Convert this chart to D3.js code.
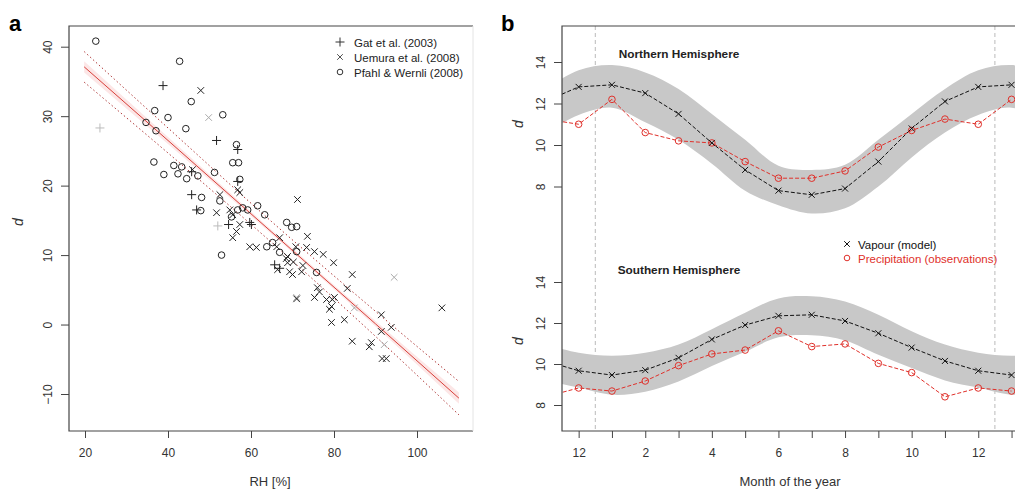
<!DOCTYPE html>
<html>
<head>
<meta charset="utf-8">
<script src="https://cdn.jsdelivr.net/npm/d3@7"></script>
<style>
  body { margin: 0; background: #fff; }
  svg { font-family: "Liberation Sans", Arial, sans-serif; }
  .tick text { fill: #333; }
</style>
</head>
<body>
<svg id="chart" width="1015" height="490"></svg>
<script>
// ---- panel a: d-excess vs relative humidity ----
const gatPoints = [
  [38.8, 34.4], [45.7, 22.0], [45.7, 18.7], [46.9, 16.5], [56.8, 25.2], [56.8, 20.6],
  [51.7, 26.5], [54.6, 14.4], [59.7, 14.7], [65.7, 8.6], [66.9, 8.1], [60.1, 14.4]
];
const gatFaint = [[23.6, 28.3], [52.0, 14.2]];
const uemuraPoints = [
  [47.9, 33.7], [45.9, 22.3], [52.5, 18.7], [56.8, 19.4], [57.3, 19.0], [51.7, 16.1],
  [54.9, 16.5], [55.6, 15.8], [57.3, 14.4], [55.6, 12.5], [56.5, 13.4], [59.7, 11.2],
  [61.3, 11.1], [66.9, 12.5], [66.2, 11.2], [68.8, 9.8], [68.8, 8.9], [66.4, 7.9],
  [69.3, 7.6], [72.2, 7.6], [70.8, 11.2], [71.2, 18.0], [73.6, 12.7], [73.4, 11.1],
  [75.3, 10.5], [77.4, 10.1], [79.9, 8.9], [84.4, 7.2], [83.2, 5.2], [76.0, 5.3],
  [76.5, 4.7], [75.3, 3.9], [78.2, 3.6], [79.6, 3.6], [80.1, 3.9], [79.4, 2.6],
  [78.9, 2.2], [82.5, 0.7], [79.4, 0.3], [91.4, 1.4], [93.8, -0.4], [91.4, -1.0],
  [84.4, -2.4], [89.0, -2.6], [88.5, -3.2], [106.0, 2.4], [91.6, -4.9], [92.6, -4.9],
  [71.0, 3.7], [68.5, 9.5], [70.2, 9.0], [72.5, 8.5], [70.0, 7.2]
];
const uemuraFaint = [[49.8, 29.8], [94.5, 6.8], [84.9, 2.4], [92.1, -2.9], [71.0, 3.9]];
const pfahlPoints = [
  [22.6, 40.8], [42.8, 37.9], [45.6, 32.1], [53.2, 30.2], [36.8, 30.8], [34.7, 29.1],
  [37.1, 27.9], [44.3, 28.2], [40.0, 29.8], [36.6, 23.4], [39.0, 21.6], [41.4, 22.9],
  [43.3, 22.7], [42.4, 21.7], [44.5, 21.0], [47.2, 21.4], [51.2, 21.9], [56.5, 25.9],
  [55.6, 23.3], [57.0, 23.3], [57.3, 20.9], [48.1, 18.3], [52.5, 17.8], [47.9, 16.4],
  [55.3, 15.5], [56.8, 16.5], [58.0, 16.8], [59.2, 16.5], [61.6, 17.1], [63.3, 15.8],
  [52.9, 10.0], [63.8, 11.2], [65.2, 11.8], [68.6, 14.7], [69.8, 14.0], [71.0, 14.1],
  [71.0, 10.5], [66.9, 10.4], [75.8, 7.5]
];
const fitRH = [19.8, 40, 65, 90, 110.1];
const fitD = [37.1, 26.5, 13.3, 0.1, -10.6];
const ciUpper = [37.9, 27.0, 13.6, 0.5, -9.8];
const ciLower = [36.3, 26.0, 13.0, -0.3, -11.4];
const predUpper = [39.3, 28.3, 14.8, 1.9, -8.2];
const predLower = [34.9, 24.7, 11.8, -1.7, -13.0];
const rhTicks = [20, 40, 60, 80, 100];
const dTicksA = [-10, 0, 10, 20, 30, 40];
const legendA = ["Gat et al. (2003)", "Uemura et al. (2008)", "Pfahl & Wernli (2008)"];

// ---- panel b: seasonal cycle (Jan..Dec) ----
const nhVapour = [12.9, 12.5, 11.5, 10.1, 8.8, 7.8, 7.6, 7.9, 9.2, 10.8, 12.1, 12.8];
const nhPrecip = [12.2, 10.6, 10.2, 10.1, 9.2, 8.4, 8.4, 8.75, 9.9, 10.7, 11.25, 11.0];
const nhBandUp = [13.85, 13.5, 12.7, 11.5, 10.25, 9.0, 8.8, 9.05, 10.25, 11.5, 12.7, 13.6];
const nhBandLo = [11.8, 11.1, 10.25, 9.1, 7.8, 7.1, 6.7, 6.95, 8.0, 9.4, 10.6, 11.45];
const shVapour = [9.46, 9.7, 10.3, 11.2, 11.9, 12.35, 12.4, 12.1, 11.5, 10.8, 10.15, 9.67];
const shPrecip = [8.68, 9.17, 9.92, 10.49, 10.68, 11.62, 10.85, 10.98, 10.03, 9.58, 8.4, 8.83];
const shBandUp = [10.4, 10.55, 10.95, 11.7, 12.5, 13.2, 13.3, 13.05, 12.4, 11.6, 10.95, 10.55];
const shBandLo = [8.5, 8.65, 9.15, 9.9, 10.6, 11.3, 11.4, 11.15, 10.45, 9.8, 9.2, 8.85];
const monthTicks = [12, 1, 2, 3, 4, 5, 6, 7, 8, 9, 10, 11, 12, 1];
const dTicksB = [8, 10, 12, 14];
const legendB = ["Vapour (model)", "Precipitation (observations)"];

const svg = d3.select("#chart");
const axisCol = "#444";
const red = "#e0302a";

const plusPath = "M-4.5,0H4.5M0,-4.5V4.5";
const crossPath = "M-3.3,-3.3L3.3,3.3M-3.3,3.3L3.3,-3.3";

function styleAxis(g) {
  g.select(".domain").remove();
  g.selectAll(".tick line").attr("stroke", axisCol);
  g.selectAll(".tick text").attr("font-size", 12);
}
function rotateY(g) {
  g.selectAll(".tick text")
    .attr("transform", "rotate(-90)")
    .attr("x", 0).attr("y", -17).attr("dy", 0)
    .attr("text-anchor", "middle");
}

// ================= panel a =================
const A = {l: 69, r: 473, t: 26, b: 431};
const xA = d3.scaleLinear().domain([20, 100]).range([85, 417]);
const yA = d3.scaleLinear().domain([-10, 40]).range([394, 46.7]);

svg.append("defs").append("clipPath").attr("id", "clipA")
  .append("rect").attr("x", A.l).attr("y", A.t).attr("width", A.r - A.l).attr("height", A.b - A.t);

const ga = svg.append("g");
const idx = d3.range(fitRH.length);

ga.append("path")
  .attr("d", d3.area().curve(d3.curveMonotoneX)
    .x(i => xA(fitRH[i])).y0(i => yA(ciLower[i])).y1(i => yA(ciUpper[i]))(idx))
  .attr("fill", "#fbe0e0").attr("opacity", 0.8);

[predUpper, predLower].forEach(arr => {
  ga.append("path")
    .attr("d", d3.line().curve(d3.curveMonotoneX).x(i => xA(fitRH[i])).y(i => yA(arr[i]))(idx))
    .attr("fill", "none").attr("stroke", "#b03a3a").attr("stroke-width", 1)
    .attr("stroke-dasharray", "1.5,2.5");
});

ga.append("path")
  .attr("d", d3.line().x(i => xA(fitRH[i])).y(i => yA(fitD[i]))(idx))
  .attr("fill", "none").attr("stroke", "#d8403a").attr("stroke-width", 1);

const pts = ga.append("g").attr("clip-path", "url(#clipA)");
function drawMarks(data, path, col) {
  pts.selectAll(null).data(data).enter().append("path")
    .attr("transform", d => `translate(${xA(d[0])},${yA(d[1])})`)
    .attr("d", path).attr("fill", "none").attr("stroke", col).attr("stroke-width", 1);
}
drawMarks(gatFaint, plusPath, "#bbb");
drawMarks(uemuraFaint, crossPath, "#aaa");
drawMarks(gatPoints, plusPath, "#222");
drawMarks(uemuraPoints, crossPath, "#222");
pts.selectAll(null).data(pfahlPoints).enter().append("circle")
  .attr("cx", d => xA(d[0])).attr("cy", d => yA(d[1])).attr("r", 3.3)
  .attr("fill", "none").attr("stroke", "#222").attr("stroke-width", 1);

// box
ga.append("path").attr("d", `M${A.r},${A.t}H${A.l}V${A.b}H${A.r}`)
  .attr("fill", "none").attr("stroke", axisCol).attr("stroke-width", 1.2);
ga.append("line").attr("x1", A.r).attr("x2", A.r).attr("y1", A.t).attr("y2", A.b)
  .attr("stroke", "#e4e4e4");

ga.append("g").attr("transform", `translate(0,${A.b})`)
  .call(d3.axisBottom(xA).tickValues(rhTicks).tickSize(7).tickPadding(10))
  .call(styleAxis);
ga.append("g").attr("transform", `translate(${A.l},0)`)
  .call(d3.axisLeft(yA).tickValues(dTicksA).tickSize(8))
  .call(styleAxis).call(rotateY);

ga.append("text").attr("x", 270).attr("y", 486).attr("text-anchor", "middle")
  .attr("font-size", 13).attr("fill", "#333").text("RH [%]");
ga.append("text").attr("transform", "translate(23,222) rotate(-90)")
  .attr("text-anchor", "middle").attr("font-size", 14).attr("font-style", "italic")
  .attr("fill", "#333").text("d");
svg.append("text").attr("x", 9).attr("y", 31).attr("font-size", 22)
  .attr("font-weight", "bold").text("a");

const legA = ga.append("g").attr("transform", "translate(340,42)");
[plusPath, crossPath, null].forEach((p, i) => {
  const row = legA.append("g").attr("transform", `translate(0,${i * 15})`);
  if (p) row.append("path").attr("d", p).attr("fill", "none").attr("stroke", "#333")
    .attr("transform", i === 1 ? "scale(0.85)" : null);
  else row.append("circle").attr("r", 2.8).attr("fill", "none").attr("stroke", "#333");
  row.append("text").attr("x", 14).attr("y", 4.5).attr("font-size", 11.5)
    .attr("fill", "#222").text(legendA[i]);
});

// ================= panel b =================
const B = {l: 562, r: 1030, t: 26, b: 431};
const xB = d3.scaleLinear().domain([-0.5, 13.5]).range([B.l, B.l + 14 * 33.3]);
const yTop = d3.scaleLinear().domain([8, 14]).range([186.5, 62]);
const yBot = d3.scaleLinear().domain([8, 14]).range([405, 282]);

svg.select("defs").append("clipPath").attr("id", "clipB")
  .append("rect").attr("x", B.l).attr("y", B.t).attr("width", B.r - B.l).attr("height", B.b - B.t);

const gb = svg.append("g");
const plot = gb.append("g").attr("clip-path", "url(#clipB)");

// wrapped positions: -1 = Nov, 0 = Dec, 1..12 = Jan..Dec, 13 = Jan, 14 = Feb
const pos = d3.range(-1, 15);
const mIdx = p => ((p - 1) % 12 + 12) % 12;

[0.5, 12.5].forEach(v => {
  plot.append("line").attr("x1", xB(v)).attr("x2", xB(v)).attr("y1", B.t).attr("y2", B.b)
    .attr("stroke", "#bbb").attr("stroke-dasharray", "4,3");
});

function hemisphere(y, vap, pre, up, lo) {
  plot.append("path")
    .attr("d", d3.area().curve(d3.curveCatmullRom)
      .x(p => xB(p)).y0(p => y(lo[mIdx(p)])).y1(p => y(up[mIdx(p)]))(pos))
    .attr("fill", "#c8c8c8");
  const vis = pos.filter(p => p <= 13);
  plot.append("path")
    .attr("d", d3.line().x(p => xB(p)).y(p => y(pre[mIdx(p)]))(vis))
    .attr("fill", "none").attr("stroke", red).attr("stroke-width", 1)
    .attr("stroke-dasharray", "4,2");
  plot.append("path")
    .attr("d", d3.line().x(p => xB(p)).y(p => y(vap[mIdx(p)]))(vis))
    .attr("fill", "none").attr("stroke", "#111").attr("stroke-width", 1)
    .attr("stroke-dasharray", "4,2");
  const mk = vis.filter(p => p >= 0);
  plot.selectAll(null).data(mk).enter().append("circle")
    .attr("cx", p => xB(p)).attr("cy", p => y(pre[mIdx(p)])).attr("r", 3.3)
    .attr("fill", "none").attr("stroke", red).attr("stroke-width", 1);
  plot.selectAll(null).data(mk).enter().append("path")
    .attr("transform", p => `translate(${xB(p)},${y(vap[mIdx(p)])})`)
    .attr("d", "M-3,-3L3,3M-3,3L3,-3").attr("fill", "none").attr("stroke", "#111");
}
hemisphere(yTop, nhVapour, nhPrecip, nhBandUp, nhBandLo);
hemisphere(yBot, shVapour, shPrecip, shBandUp, shBandLo);

gb.append("path").attr("d", `M${B.r},${B.t}H${B.l}V${B.b}H${B.r}`)
  .attr("fill", "none").attr("stroke", axisCol).attr("stroke-width", 1.2);

gb.append("g").attr("transform", `translate(0,${B.b})`)
  .call(d3.axisBottom(xB).tickValues(d3.range(0, 14)).tickSize(7).tickPadding(10)
    .tickFormat(d => monthTicks[d] % 2 === 0 ? monthTicks[d] : ""))
  .call(styleAxis);
[yTop, yBot].forEach(y => {
  gb.append("g").attr("transform", `translate(${B.l},0)`)
    .call(d3.axisLeft(y).tickValues(dTicksB).tickSize(8).tickFormat(d3.format("d")))
    .call(styleAxis).call(rotateY);
});

gb.append("text").attr("x", 679).attr("y", 58).attr("text-anchor", "middle")
  .attr("font-size", 11.8).attr("font-weight", "bold").attr("fill", "#222").text("Northern Hemisphere");
gb.append("text").attr("x", 679).attr("y", 274).attr("text-anchor", "middle")
  .attr("font-size", 11.8).attr("font-weight", "bold").attr("fill", "#222").text("Southern Hemisphere");
gb.append("text").attr("x", 790).attr("y", 486).attr("text-anchor", "middle")
  .attr("font-size", 13).attr("fill", "#333").text("Month of the year");
[124, 341].forEach(cy => {
  gb.append("text").attr("transform", `translate(523,${cy}) rotate(-90)`)
    .attr("text-anchor", "middle").attr("font-size", 14).attr("font-style", "italic")
    .attr("fill", "#333").text("d");
});
svg.append("text").attr("x", 501).attr("y", 31).attr("font-size", 22)
  .attr("font-weight", "bold").text("b");

const legB = gb.append("g").attr("transform", "translate(847,244)");
legB.append("path").attr("d", "M-2.8,-2.8L2.8,2.8M-2.8,2.8L2.8,-2.8")
  .attr("fill", "none").attr("stroke", "#111");
legB.append("text").attr("x", 11).attr("y", 4.5).attr("font-size", 11.5)
  .attr("fill", "#111").text(legendB[0]);
legB.append("circle").attr("cy", 14).attr("r", 2.8).attr("fill", "none").attr("stroke", red);
legB.append("text").attr("x", 11).attr("y", 18.5).attr("font-size", 11.5)
  .attr("fill", red).text(legendB[1]);
</script>
</body>
</html>
